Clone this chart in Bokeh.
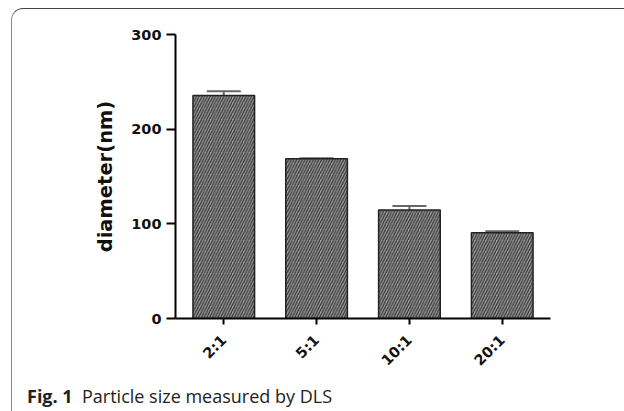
from math import pi
from bokeh.plotting import figure
from bokeh.layouts import column
from bokeh.models import (ColumnDataSource, FactorRange, Range1d, Whisker, TeeHead,
                          FixedTicker, Div)
from bokeh.embed import file_html
from bokeh.resources import INLINE

# ---- data ----
categories = ["2:1", "5:1", "10:1", "20:1"]
diameter = [235.5, 168.8, 114.6, 90.7]
error = [4.5, 0.4, 4.2, 1.4]
y_ticks = [0, 100, 200, 300]
caption_bold = "Fig. 1"
caption_text = "Particle size measured by DLS"
y_label = "diameter(nm)"

upper = [d + e for d, e in zip(diameter, error)]
src = ColumnDataSource(dict(cat=categories, val=diameter, upper=upper, lower=diameter))

p = figure(width=610, height=369, output_backend="svg", toolbar_location=None,
           x_range=FactorRange(factors=categories, range_padding=0.02,
                               range_padding_units="absolute"),
           y_range=Range1d(0, 300),
           min_border_left=163, min_border_right=72, min_border_top=25,
           min_border_bottom=60)
p.outline_line_color = None
p.grid.visible = False
p.background_fill_color = None
p.border_fill_color = None

p.vbar(x="cat", top="val", width=0.664, source=src,
       fill_color="#a2a2a2", line_color="#222222", line_width=1.5,
       hatch_pattern="/", hatch_color="#3c3c3c", hatch_scale=5.5, hatch_weight=1.4)

w = Whisker(base="cat", upper="upper", lower="lower", source=src,
            line_color="#666666", line_width=2,
            upper_head=TeeHead(size=34, line_color="#666666", line_width=2),
            lower_head=None)
p.add_layout(w)

for ax in (p.xaxis[0], p.yaxis[0]):
    ax.axis_line_color = "black"
    ax.axis_line_width = 2
    ax.major_tick_line_color = "black"
    ax.major_tick_line_width = 2
    ax.major_tick_in = 0
    ax.minor_tick_line_color = None
    ax.major_label_text_font = "DejaVu Sans"
    ax.major_label_text_font_style = "bold"
    ax.major_label_text_color = "#111111"

p.yaxis[0].ticker = FixedTicker(ticks=y_ticks)
p.yaxis[0].major_tick_out = 9
p.yaxis[0].major_label_standoff = 5
p.yaxis[0].major_label_text_font_size = "14.5px"
p.yaxis[0].axis_label = y_label
p.yaxis[0].axis_label_text_font = "DejaVu Sans"
p.yaxis[0].axis_label_text_font_style = "bold"
p.yaxis[0].axis_label_text_font_size = "19.5px"
p.yaxis[0].axis_label_text_color = "#111111"
p.yaxis[0].axis_label_standoff = 11

p.xaxis[0].major_tick_out = 6
p.xaxis[0].major_label_orientation = pi / 4
p.xaxis[0].major_label_text_font_size = "14.5px"
p.xaxis[0].major_label_standoff = 13

cap = Div(text=f"<b>{caption_bold}</b>&nbsp;&nbsp;{caption_text}",
          width=610, height=30,
          styles={"font-family": "Open Sans", "font-size": "18px",
                  "color": "#222222", "padding-left": "10px", "padding-top": "1px",
                  "line-height": "normal", "box-sizing": "border-box"})

lay = column(p, cap, spacing=0, margin=(8, 0, 0, 11),
             styles={"border-top": "1.2px solid #444444",
                     "border-left": "1.2px solid #8a8a8a",
                     "border-top-left-radius": "12px",
                     "background": "white"})

open("out.html", "w").write(file_html(lay, INLINE))
